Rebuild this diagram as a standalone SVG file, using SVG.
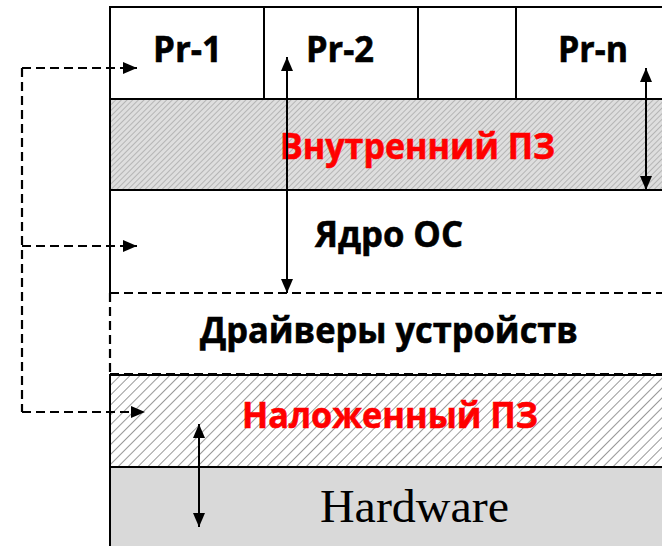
<svg xmlns="http://www.w3.org/2000/svg" width="662" height="546" viewBox="0 0 662 546">
  <style>
    .lbl { font-family: "Open Sans", "Liberation Sans", sans-serif; font-weight: bold; font-size: 36px; fill: #000; stroke: #000; stroke-width: 0.6; }
    .red { fill: #ff0000; stroke: #ff0000; }
    .hw { font-family: "Liberation Serif", serif; font-size: 47px; fill: #000; }
    .edge { stroke: #000; stroke-width: 2; fill: none; }
    .dash { stroke: #000; stroke-width: 2.2; fill: none; stroke-dasharray: 9 5; }
    .arrow { stroke: #000; stroke-width: 2; fill: none; }
  </style>
  <defs>
    <pattern id="hatchDense" patternUnits="userSpaceOnUse" width="4" height="4" patternTransform="rotate(45)">
      <rect width="4" height="4" fill="#dedede"/>
      <line x1="0" y1="0" x2="0" y2="4" stroke="#a4a4a4" stroke-width="1.4"/>
    </pattern>
    <pattern id="hatchWide" patternUnits="userSpaceOnUse" width="7" height="7" patternTransform="rotate(45)">
      <rect width="7" height="7" fill="#ffffff"/>
      <line x1="0" y1="0" x2="0" y2="7" stroke="#999999" stroke-width="2"/>
    </pattern>
    <marker id="head" viewBox="0 0 14 12" refX="14" refY="6" markerWidth="14" markerHeight="12" markerUnits="userSpaceOnUse" orient="auto-start-reverse">
      <path d="M0,0 L14,6 L0,12 Z" fill="#000"/>
    </marker>
  </defs>

  <rect width="662" height="546" fill="#ffffff"/>

  <!-- Application processes -->
  <g id="processes">
    <rect x="110" y="7" width="560" height="92" fill="#ffffff"/>
    <line class="edge" x1="264" y1="7" x2="264" y2="99"/>
    <line class="edge" x1="418" y1="7" x2="418" y2="99"/>
    <line class="edge" x1="516" y1="7" x2="516" y2="99"/>
    <text class="lbl" x="153" y="62" textLength="69" lengthAdjust="spacingAndGlyphs">Pr-1</text>
    <text class="lbl" x="306" y="62" textLength="68" lengthAdjust="spacingAndGlyphs">Pr-2</text>
    <text class="lbl" x="558" y="62" textLength="70" lengthAdjust="spacingAndGlyphs">Pr-n</text>
  </g>

  <!-- Internal protection layer -->
  <g id="internal-pz">
    <rect x="110" y="99" width="560" height="91" fill="url(#hatchDense)"/>
    <text class="lbl red" x="280" y="159" textLength="275" lengthAdjust="spacingAndGlyphs">Внутренний ПЗ</text>
  </g>

  <!-- OS kernel -->
  <g id="kernel">
    <rect x="110" y="190" width="560" height="103" fill="#ffffff"/>
    <text class="lbl" x="315" y="247" textLength="148" lengthAdjust="spacingAndGlyphs">Ядро ОС</text>
  </g>

  <!-- Device drivers -->
  <g id="drivers">
    <rect x="110" y="293" width="560" height="81" fill="#ffffff"/>
    <text class="lbl" x="200" y="343" textLength="378" lengthAdjust="spacingAndGlyphs">Драйверы устройств</text>
  </g>

  <!-- Overlaid protection layer -->
  <g id="overlay-pz">
    <rect x="110" y="374" width="560" height="93" fill="url(#hatchWide)"/>
    <text class="lbl red" x="242" y="428" textLength="296" lengthAdjust="spacingAndGlyphs">Наложенный ПЗ</text>
  </g>

  <!-- Hardware -->
  <g id="hardware">
    <rect x="110" y="467" width="560" height="90" fill="#d9d9d9"/>
    <text class="hw" x="320" y="522" textLength="189" lengthAdjust="spacingAndGlyphs">Hardware</text>
  </g>

  <!-- Layer borders -->
  <g id="borders">
    <line class="edge" x1="110" y1="7" x2="662" y2="7"/>
    <line class="edge" x1="110" y1="99" x2="662" y2="99"/>
    <line class="edge" x1="110" y1="190" x2="662" y2="190"/>
    <line class="dash" x1="110" y1="293" x2="662" y2="293"/>
    <line class="edge" x1="110" y1="375" x2="662" y2="375" stroke-width="1.5"/>
    <line class="dash" x1="110" y1="374" x2="662" y2="374" stroke-width="2.6"/>
    <line class="edge" x1="110" y1="467" x2="662" y2="467" stroke-width="2.4"/>
    <line class="edge" x1="110" y1="6" x2="110" y2="293"/>
    <line class="dash" x1="110" y1="293" x2="110" y2="374"/>
    <line class="edge" x1="110" y1="374" x2="110" y2="546"/>
  </g>

  <!-- Connectors -->
  <g id="connectors">
    <path class="dash" d="M22,68 L22,412"/>
    <line class="dash" x1="22" y1="68" x2="137" y2="68" marker-end="url(#head)"/>
    <line class="dash" x1="22" y1="246" x2="137" y2="246" marker-end="url(#head)"/>
    <line class="dash" x1="22" y1="412" x2="145" y2="412" marker-end="url(#head)"/>
    <line class="arrow" x1="287" y1="57" x2="287" y2="293" marker-start="url(#head)" marker-end="url(#head)"/>
    <line class="arrow" x1="646" y1="68" x2="646" y2="190" marker-start="url(#head)" marker-end="url(#head)"/>
    <line class="arrow" x1="199" y1="424" x2="199" y2="527" marker-start="url(#head)" marker-end="url(#head)"/>
  </g>
</svg>
